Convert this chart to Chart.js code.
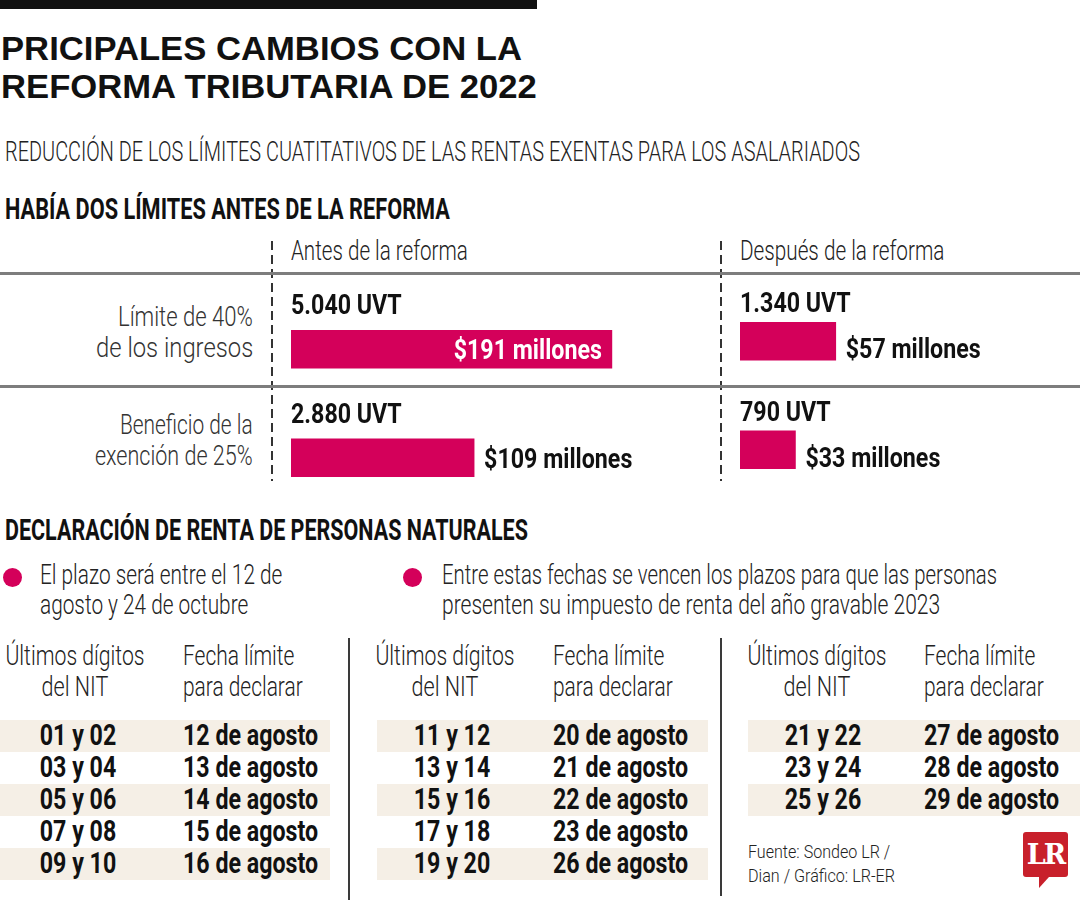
<!DOCTYPE html>
<html lang="es">
<head>
<meta charset="utf-8">
<title>Principales cambios con la reforma tributaria de 2022</title>
<script src="https://cdn.jsdelivr.net/npm/chart.js@4.4.1/dist/chart.umd.min.js"></script>
<style>
  html, body { margin: 0; padding: 0; background: #fff; }
  #page { position: relative; width: 1080px; height: 900px; overflow: hidden;
          font-family: Roboto, "Open Sans", sans-serif; color: #161616; }
  .t { position: absolute; white-space: nowrap; line-height: 1; }
  #titulo { position: absolute; left: 1px; top: 29.2px; font: 700 34px "Liberation Sans", Arial, sans-serif;
            color: #111; line-height: 38px; white-space: nowrap; transform-origin: left top; }
  .rule { position: absolute; left: 0; width: 1080px; height: 3px; background: #7d7d7d; }
  .dash { position: absolute; width: 1.5px;
          background: repeating-linear-gradient(to bottom, #333 0 9px, transparent 9px 14px); }
  .vline { position: absolute; width: 2px; background: #3a3a3a; }
  .shade { position: absolute; height: 32px; background: #f5efe6; }
  .dot { position: absolute; width: 19px; height: 19px; border-radius: 50%; background: #d4005a; }
  canvas { position: absolute; }
  #logo { position: absolute; left: 1023px; top: 832px; width: 45px; height: 45px; background: #c8202b;
          border-radius: 3px; color: #fff; font: bold 27px "DejaVu Serif", "Liberation Serif", serif;
          text-align: center; line-height: 45px; letter-spacing: -2px; }
  #logo:after { content: ""; position: absolute; left: 16px; top: 45px; border-left: 0 solid transparent;
          border-right: 10px solid transparent; border-top: 11px solid #c8202b; }
</style>
</head>
<body>
<div id="page">
  <div style="position:absolute;left:0;top:0;width:537px;height:9px;background:#111"></div>
  <div id="titulo">PRICIPALES CAMBIOS CON LA<br>REFORMA TRIBUTARIA DE 2022</div>
  <div class="dash" style="left:271px;top:241px;height:240px"></div>
  <div class="dash" style="left:720px;top:241px;height:240px"></div>
  <div class="rule" style="top:272px"></div>
  <div class="rule" style="top:385px"></div>
  <div class="dot" style="left:3px;top:568px"></div>
  <div class="dot" style="left:403px;top:568px"></div>
  <div class="vline" style="left:348px;top:638px;height:262px"></div>
  <div class="vline" style="left:720px;top:638px;height:258px"></div>
  <canvas id="antes" width="420" height="237" style="left:291px;top:275px"></canvas>
  <canvas id="despues" width="340" height="237" style="left:740px;top:267px"></canvas>
  <div id="logo">LR</div>
</div>
<script>
// datos
const categorias = ['Límite de 40% de los ingresos', 'Beneficio de la exención de 25%'];
const uvtAntes = [5040, 2880];
const uvtDespues = [1340, 790];
const millonesAntes = [191, 109];
const millonesDespues = [57, 33];

const digitos1 = ['01 y 02', '03 y 04', '05 y 06', '07 y 08', '09 y 10'];
const fechas1 = ['12 de agosto', '13 de agosto', '14 de agosto', '15 de agosto', '16 de agosto'];
const digitos2 = ['11 y 12', '13 y 14', '15 y 16', '17 y 18', '19 y 20'];
const fechas2 = ['20 de agosto', '21 de agosto', '22 de agosto', '23 de agosto', '26 de agosto'];
const digitos3 = ['21 y 22', '23 y 24', '25 y 26'];
const fechas3 = ['27 de agosto', '28 de agosto', '29 de agosto'];

const MAGENTA = '#d4005a';
const PX_POR_MILLON = 1.68;
const page = document.getElementById('page');

// el título ocupa 536px de ancho en el original
const titulo = document.getElementById('titulo');
titulo.style.transform = 'scaleX(' + (536 / titulo.offsetWidth) + ')';

// texto condensado: se escala en x hasta el ancho pedido (o por un factor fijo)
function txt(text, x, base, size, weight, align, width, color) {
  const el = document.createElement('div');
  el.className = 't';
  el.textContent = text;
  el.style.fontSize = size + 'px';
  el.style.fontWeight = weight;
  el.style.top = (base - 0.84 * size) + 'px';
  if (color) el.style.color = color;
  page.appendChild(el);
  const sx = width < 2 ? width : width / el.offsetWidth;
  if (align === 'right') {
    el.style.right = (1080 - x) + 'px';
    el.style.transformOrigin = 'right top';
    el.style.transform = 'scaleX(' + sx + ')';
  } else if (align === 'center') {
    el.style.left = x + 'px';
    el.style.transformOrigin = 'center top';
    el.style.transform = 'translateX(-50%) scaleX(' + sx + ')';
  } else {
    el.style.left = x + 'px';
    el.style.transformOrigin = 'left top';
    el.style.transform = 'scaleX(' + sx + ')';
  }
}

txt('REDUCCIÓN DE LOS LÍMITES CUATITATIVOS DE LAS RENTAS EXENTAS PARA LOS ASALARIADOS', 5, 162, 28, 300, 'left', 855, '#222');
txt('HABÍA DOS LÍMITES ANTES DE LA REFORMA', 5, 219, 30, 700, 'left', 445, '#111');
txt('Antes de la reforma', 291, 261, 27, 300, 'left', 177, '#222');
txt('Después de la reforma', 740, 261, 27, 300, 'left', 204, '#222');
txt('Límite de 40%', 253, 327, 27, 300, 'right', 135, '#333');
txt('de los ingresos', 253, 358, 27, 300, 'right', 157, '#333');
txt('Beneficio de la', 253, 435, 27, 300, 'right', 133, '#333');
txt('exención de 25%', 253, 466, 27, 300, 'right', 158, '#333');
txt('DECLARACIÓN DE RENTA DE PERSONAS NATURALES', 5, 540, 30, 700, 'left', 523, '#111');
txt('El plazo será entre el 12 de', 40, 585, 27, 300, 'left', 242, '#222');
txt('agosto y 24 de octubre', 40, 615, 27, 300, 'left', 208, '#222');
txt('Entre estas fechas se vencen los plazos para que las personas', 442, 585, 27, 300, 'left', 555, '#222');
txt('presenten su impuesto de renta del año gravable 2023', 442, 615, 27, 300, 'left', 498, '#222');
txt('Fuente: Sondeo LR /', 748, 858, 18, 300, 'left', 142, '#222');
txt('Dian / Gráfico: LR-ER', 748, 882, 18, 300, 'left', 147, '#222');

// tablas de vencimientos
function tabla(digitos, fechas, x0, x1, cHead, cDig, xFecha) {
  txt('Últimos dígitos', cHead, 666, 27, 300, 'center', 139, '#222');
  txt('del NIT', cHead, 697, 27, 300, 'center', 67, '#222');
  txt('Fecha límite', xFecha, 666, 27, 300, 'left', 111, '#222');
  txt('para declarar', xFecha, 697, 27, 300, 'left', 120, '#222');
  digitos.forEach((d, i) => {
    const top = 720 + i * 32;
    if (i % 2 === 0) {
      const s = document.createElement('div');
      s.className = 'shade';
      s.style.left = x0 + 'px';
      s.style.width = (x1 - x0) + 'px';
      s.style.top = top + 'px';
      page.insertBefore(s, page.firstChild);
    }
    txt(d, cDig, top + 25, 29, 700, 'center', 0.8, '#111');
    txt(fechas[i], xFecha, top + 25, 29, 700, 'left', 0.8, '#111');
  });
}
tabla(digitos1, fechas1, 0, 330, 75, 78, 183);
tabla(digitos2, fechas2, 377, 708, 445, 452, 553);
tabla(digitos3, fechas3, 748, 1080, 817, 823, 924);

// barras
function miles(n) {
  return String(n).replace(/\B(?=(\d{3})+(?!\d))/g, '.');
}

function dibujarTexto(ctx, text, x, y, align, color) {
  ctx.save();
  ctx.font = '700 27px Roboto';
  ctx.fillStyle = color;
  ctx.textAlign = align;
  ctx.textBaseline = 'alphabetic';
  ctx.translate(x, y);
  ctx.scale(0.86, 1);
  ctx.fillText(text, 0, 0);
  ctx.restore();
}

function etiquetas(uvt, millones, uvtDy, valDy) {
  return {
    id: 'etiquetas',
    afterDatasetsDraw(chart) {
      const ctx = chart.ctx;
      chart.getDatasetMeta(0).data.forEach((bar, i) => {
        dibujarTexto(ctx, miles(uvt[i]) + ' UVT', bar.base, bar.y + uvtDy, 'left', '#111');
        const lbl = '$' + millones[i] + ' millones';
        if (bar.x - bar.base > 250) {
          dibujarTexto(ctx, lbl, bar.x - 10, bar.y + valDy, 'right', '#fff');
        } else {
          dibujarTexto(ctx, lbl, bar.x + 10, bar.y + valDy, 'left', '#111');
        }
      });
    }
  };
}

function graficoBarras(id, uvt, millones, uvtDy, valDy) {
  const canvas = document.getElementById(id);
  return new Chart(canvas, {
    type: 'bar',
    data: {
      labels: categorias,
      datasets: [{
        data: millones,
        backgroundColor: MAGENTA,
        borderWidth: 0,
        barThickness: 38
      }]
    },
    options: {
      indexAxis: 'y',
      responsive: false,
      animation: false,
      layout: { padding: { top: 20, left: 0, right: 0, bottom: 0 } },
      scales: {
        x: { display: false, min: 0, max: canvas.width / PX_POR_MILLON },
        y: { display: false }
      },
      plugins: {
        legend: { display: false },
        tooltip: { enabled: false }
      }
    },
    plugins: [etiquetas(uvt, millones, uvtDy, valDy)]
  });
}

graficoBarras('antes', uvtAntes, millonesAntes, -35, 10);
graficoBarras('despues', uvtDespues, millonesDespues, -29, 17);
</script>
</body>
</html>
